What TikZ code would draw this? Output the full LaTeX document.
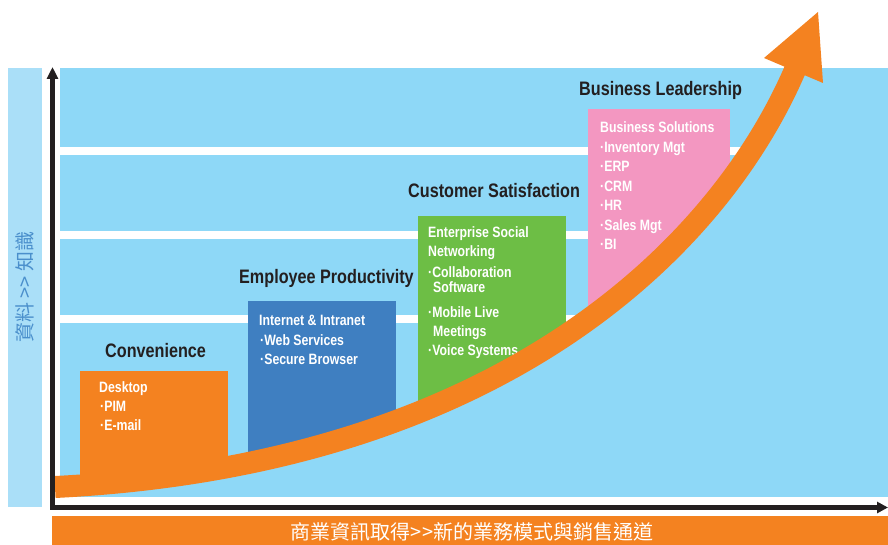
\documentclass[tikz,border=0pt]{standalone}
\usepackage{fontspec}
\setmainfont[FakeStretch=0.82]{Liberation Sans}
\newfontfamily\headfont[FakeStretch=0.83]{Liberation Sans}
\newfontfamily\cjk{Noto Sans CJK TC}
\usepackage{tikz}
\usetikzlibrary{arrows.meta}
\definecolor{panelblue}{HTML}{8ED8F7}
\definecolor{barblue}{HTML}{AADFF8}
\definecolor{arroworange}{HTML}{F48220}
\definecolor{boxblue}{HTML}{3F7FC1}
\definecolor{boxgreen}{HTML}{6DBE45}
\definecolor{boxpink}{HTML}{F397C1}
\definecolor{inkdark}{HTML}{231F20}
\definecolor{labelblue}{HTML}{4A8FCC}
\tikzset{
    title/.style={anchor=base west, inner sep=0pt, text=inkdark,
        font=\headfont\fontsize{19.5}{20}\selectfont\bfseries},
    item/.style={anchor=base west, inner sep=0pt, text=white,
        font=\fontsize{15}{16}\selectfont\bfseries},
    axis/.style={line width=5pt, draw=inkdark, line join=miter},
    cjklabel/.style={inner sep=0pt, font=\cjk\fontsize{20}{20}\selectfont}}

\begin{document}
\begin{tikzpicture}[x=1pt, y=-1pt]

            \useasboundingbox (0,0) rectangle (888,545);

            % background bars and panel
            \fill[barblue] (8,68) rectangle (42,507);
            \fill[panelblue] (60,68) rectangle (888,497);
            \fill[arroworange] (52,516) rectangle (888,545);

            % bands and boxes stop at the arrow
            \begin{scope}
                \clip (55,487) .. controls (505,464.5) and (720,244) .. (795,70)
                    -- (795,0) -- (0,0) -- (0,487) -- cycle;
                \fill[white] (60,147) rectangle (888,155);
                \fill[white] (60,231) rectangle (888,239);
                \fill[white] (60,315) rectangle (888,323);
                \fill[arroworange] (80,371) rectangle (228,500);
                \fill[boxblue] (248,301) rectangle (396,500);
                \fill[boxgreen] (418,216) rectangle (566,500);
                \fill[boxpink] (588,109) rectangle (730,500);
            \end{scope}

            \node[item] (desk) at (99,392) {Desktop};
            \node[item] (pim) at (100,411) {·PIM};
            \node[item] (mail) at (100,430) {·E-mail};

            \node[item] (net) at (259,325) {Internet \& Intranet};
            \node[item] (web) at (260,345) {·Web Services};
            \node[item] (browser) at (260,364) {·Secure Browser};

            \node[item] (esn) at (428,238) {Enterprise Social};
            \node[item] (esn2) at (428,257) {Networking};
            \node[item] (collab) at (428,277) {·Collaboration};
            \node[item] (collab2) at (433,292) {Software};
            \node[item] (mobile) at (428,317) {·Mobile Live};
            \node[item] (mobile2) at (433,336) {Meetings};
            \node[item] (voice) at (428,355) {·Voice Systems};

            \node[item] (bizsol) at (600,133) {Business Solutions};
            \node[item] (inv) at (600,153) {·Inventory Mgt};
            \node[item] (erp) at (600,172) {·ERP};
            \node[item] (crm) at (600,192) {·CRM};
            \node[item] (hr) at (600,211) {·HR};
            \node[item] (sales) at (600,231) {·Sales Mgt};
            \node[item] (bi) at (600,250) {·BI};

            % growth arrow
            \draw[arroworange, line width=22pt] (55,487) .. controls (505,464.5) and (720,244) .. (795,70);
            \fill[arroworange] (764,58) -- (818,12) -- (823,83) -- cycle;

            \node[title] (conv) at (105,357) {Convenience};
            \node[title] (prod) at (239,283) {Employee Productivity};
            \node[title] (satis) at (408,198) {Customer Satisfaction};
            \node[title] (lead) at (579,96) {Business Leadership};

            % axes
            \coordinate (origin) at (52.5,507.5);
            \coordinate (ytip) at (52.5,67);
            \coordinate (xtip) at (888,507.5);
            \draw[axis, {Triangle[length=12pt,width=11pt]}-{Triangle[length=11pt,width=11pt]}]
                (ytip) -- (origin) -- (xtip);

            \node[cjklabel, rotate=90, text=labelblue] (ylabel) at (25,287) {資料 >> 知識};
            \node[cjklabel, text=white] (xlabel) at (472,532) {商業資訊取得>>新的業務模式與銷售通道};

        \end{tikzpicture}
\end{document}
